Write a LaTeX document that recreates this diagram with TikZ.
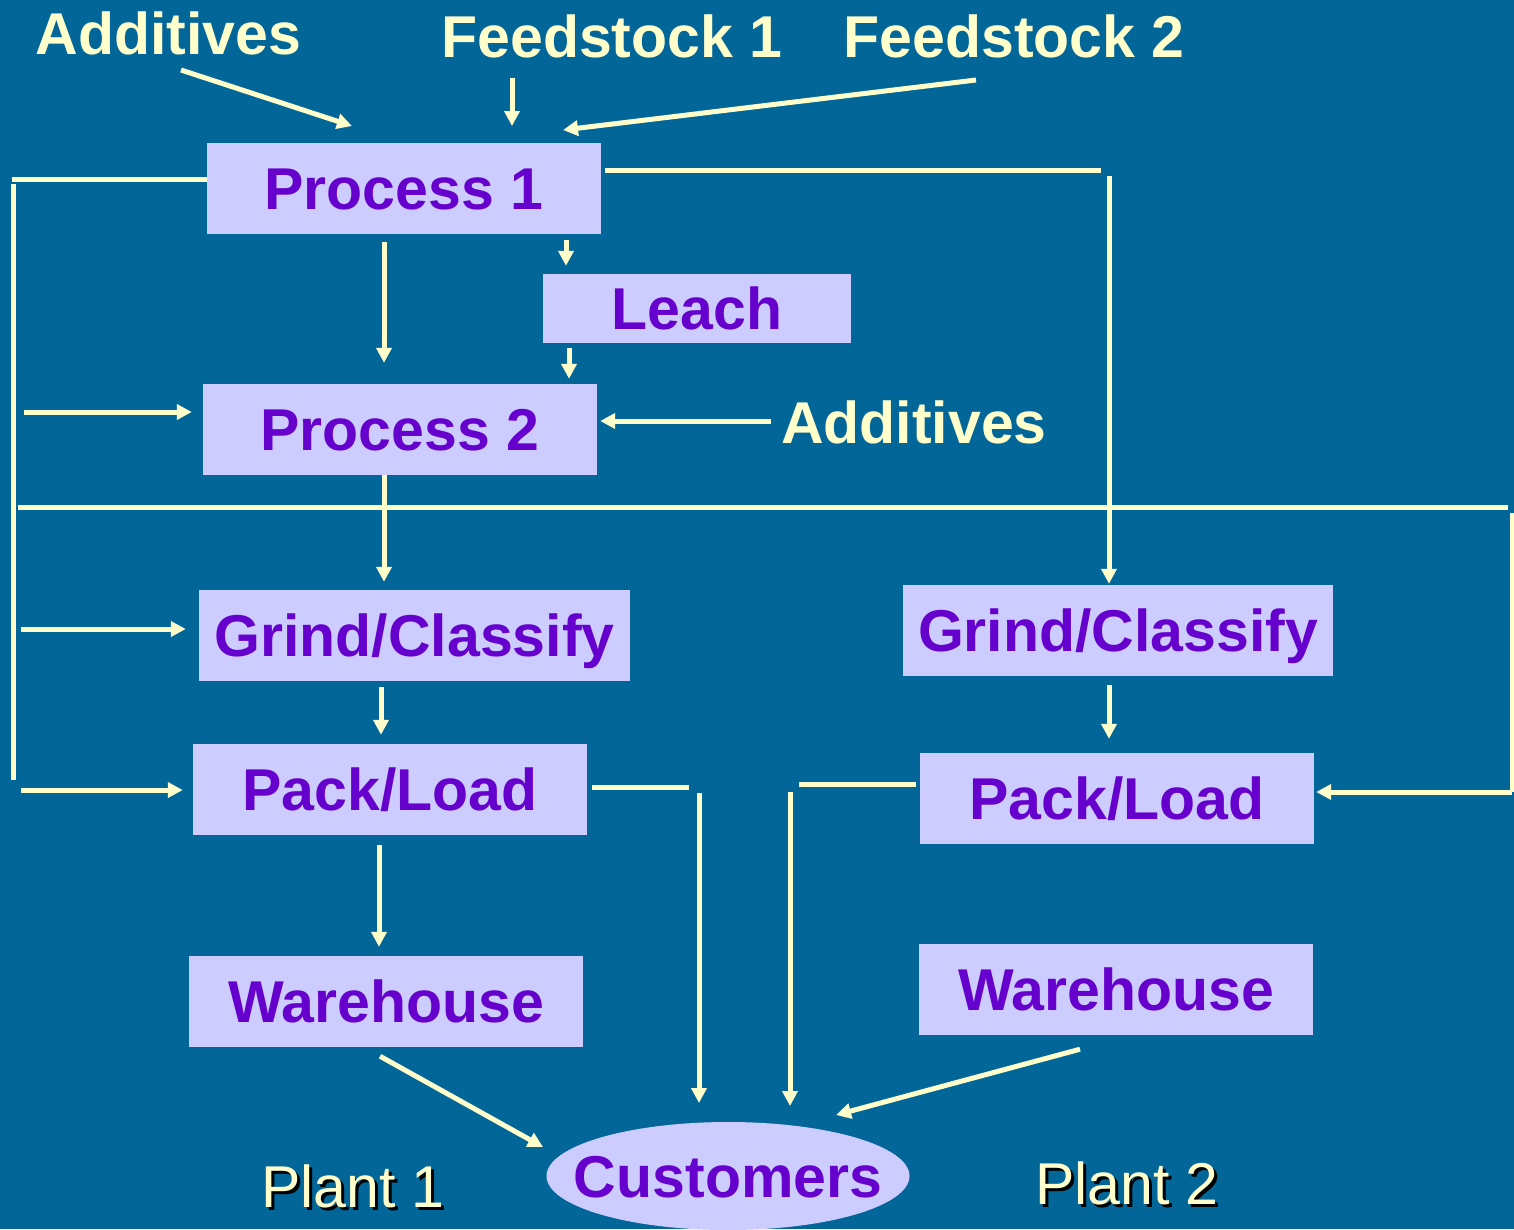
\documentclass[tikz,border=0pt]{standalone}
\usepackage{fontspec}
\setmainfont{Liberation Sans}
\usetikzlibrary{arrows.meta,shapes.geometric}
\definecolor{bgc}{HTML}{036699}
\definecolor{boxc}{HTML}{CCCCFF}
\definecolor{txtc}{HTML}{6600CC}
\definecolor{lnc}{HTML}{FFFFCC}
\tikzset{
  bx/.style={fill=boxc, text=txtc, font=\bfseries\fontsize{59}{70}\selectfont,
    inner sep=0pt, text height=42.5pt, text depth=0pt},
  lbl/.style={text=lnc, font=\bfseries\fontsize{59}{70}\selectfont,
    inner sep=0pt, text height=42.5pt, text depth=0pt},
  plant/.style={text=lnc, font=\fontsize{59}{70}\selectfont,
    inner sep=0pt, text height=42.5pt, text depth=0pt},
  plantsh/.style={plant, text=black},
  conn/.style={draw=lnc, line width=5pt},
  arr/.style={conn, -{Triangle[length=15pt,width=15pt]}},
}
\begin{document}
\begin{tikzpicture}[x=1pt,y=-1pt]
\useasboundingbox (0,0) rectangle (1514,1229);
\fill[bgc] (0,0) rectangle (1514,1229);

% labels
\node[lbl] (ad1) at (168.5,33) {Additives};
\node[lbl] (fs1) at (612,36) {Feedstock 1};
\node[lbl] (fs2) at (1014,36) {Feedstock 2};
\node[lbl] (ad2) at (914,422) {Additives};
\node[plantsh] (pl1s) at (356,1189) {Plant 1};
\node[plant] (pl1) at (353,1186) {Plant 1};
\node[plantsh] (pl2s) at (1130,1186) {Plant 2};
\node[plant] (pl2) at (1127,1183) {Plant 2};

% boxes
\node[bx, minimum width=394pt, minimum height=91pt] (p1) at (404,188.5) {Process 1};
\node[bx, minimum width=308pt, minimum height=69pt] (le) at (697,308.5) {Leach};
\node[bx, minimum width=394pt, minimum height=91pt] (p2) at (400,429.5) {Process 2};
\node[bx, minimum width=431pt, minimum height=91pt] (g1) at (414.5,635.5) {Grind/Classify};
\node[bx, minimum width=394pt, minimum height=91pt] (k1) at (390,789.5) {Pack/Load};
\node[bx, minimum width=394pt, minimum height=91pt] (w1) at (386,1001.5) {Warehouse};
\node[bx, minimum width=430pt, minimum height=91pt] (g2) at (1118,630.5) {Grind/Classify};
\node[bx, minimum width=394pt, minimum height=91pt] (k2) at (1117,798.5) {Pack/Load};
\node[bx, minimum width=394pt, minimum height=91pt] (w2) at (1116,989.5) {Warehouse};
\node[ellipse, fill=boxc, inner sep=0pt, minimum width=363pt, minimum height=108pt] (cu) at (728,1176) {};
\node[bx, fill=none] (cut) at (cu.center) {Customers};

% coordinates for connector ends
\coordinate (a1s) at (181,70);   \coordinate (a1e) at (352,126);
\coordinate (f1s) at (512,78);   \coordinate (f1e) at (512,126);
\coordinate (f2s) at (976,80);   \coordinate (f2e) at (563,130);
\coordinate (lc1) at (12,179);   \coordinate (lv1) at (13,184);  \coordinate (lv2) at (13,780);
\coordinate (i1s) at (24,412);   \coordinate (i2s) at (21,629);  \coordinate (i3s) at (21,790);
\coordinate (rc1) at (1101,170); \coordinate (rv1) at (1109,176);
\coordinate (bh1) at (18,507);   \coordinate (bh2) at (1508,507);
\coordinate (bv1) at (1512,513); \coordinate (bv2) at (1512,792);
\coordinate (c1a) at (689,787);  \coordinate (c1b) at (699,793);
\coordinate (c2a) at (799,784);  \coordinate (c2b) at (790,792);
\coordinate (a2e) at (770,421);
\coordinate (c1e) at (699,1103); \coordinate (c2e) at (790,1106);
\coordinate (w1e) at (543,1147); \coordinate (w2e) at (836,1115);
\coordinate (xa) at (384,0); \coordinate (xb) at (566,0); \coordinate (xc) at (569,0);
\coordinate (xd) at (381,0); \coordinate (xe) at (379,0); \coordinate (xf) at (1109,0);
\coordinate (xg) at (380,0); \coordinate (xh) at (1080,0);

% connectors
\draw[arr] (a1s) -- (a1e);
\draw[arr] (f1s) -- (f1e);
\draw[arr] (f2s) -- (f2e);

\draw[conn] (p1.west |- lc1) -- (lc1);
\draw[conn] (lv1) -- (lv2);
\draw[arr] (i1s) -- ([xshift=-11pt]p2.west |- i1s);
\draw[arr] (i2s) -- ([xshift=-13pt]g1.west |- i2s);
\draw[arr] (i3s) -- ([xshift=-10pt]k1.west |- i3s);

\draw[conn] ([xshift=4pt]p1.east |- rc1) -- (rc1);
\draw[arr] (rv1) -- ([yshift=1pt]g2.north -| rv1);

\draw[arr] ([yshift=-8pt]p1.south -| xa) -- ([yshift=21pt]p2.north -| xa);
\draw[arr] ([yshift=-6pt]p1.south -| xb) -- ([yshift=8pt]le.north -| xb);
\draw[arr] ([yshift=-5pt]le.south -| xc) -- ([yshift=5pt]p2.north -| xc);
\draw[arr] ([xshift=-10pt]ad2.west |- a2e) -- ([xshift=3pt]p2.east |- a2e);

\draw[arr] (p2.south -| xa) -- ([yshift=8pt]g1.north -| xa);
\draw[conn] (bh1) -- (bh2);
\draw[conn] (bv1) -- (bv2);
\draw[arr] (bv2) -- ([xshift=2pt]k2.east |- bv2);

\draw[arr] ([yshift=-6pt]g1.south -| xd) -- ([yshift=9pt]k1.north -| xd);
\draw[arr] ([yshift=-10pt]k1.south -| xe) -- ([yshift=9pt]w1.north -| xe);
\draw[conn] ([xshift=5pt]k1.east |- c1a) -- (c1a);
\draw[arr] (c1b) -- (c1e);
\draw[conn] ([xshift=-4pt]k2.west |- c2a) -- (c2a);
\draw[arr] (c2b) -- (c2e);
\draw[arr] ([yshift=-9pt]g2.south -| xf) -- ([yshift=14pt]k2.north -| xf);

\draw[arr] ([yshift=-9pt]w1.south -| xg) -- (w1e);
\draw[arr] ([yshift=-14pt]w2.south -| xh) -- (w2e);
\end{tikzpicture}
\end{document}
